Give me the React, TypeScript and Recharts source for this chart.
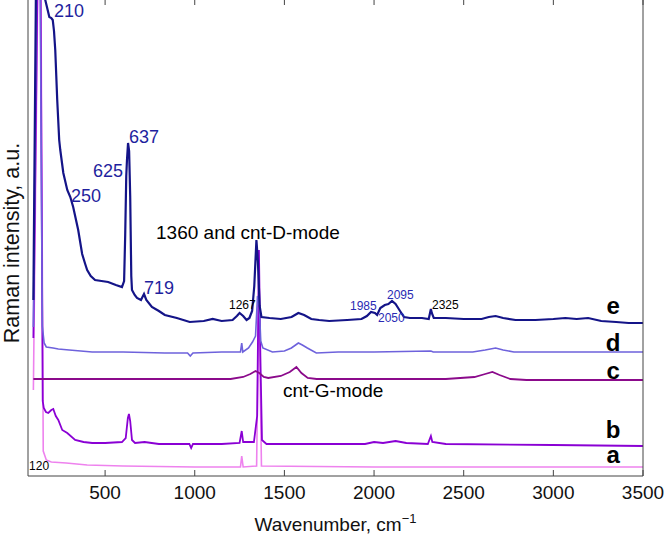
import { LineChart, Line, XAxis, YAxis, ReferenceDot, ReferenceLine } from 'recharts';

// Raman spectra, offset vertically (a.u.), [wavenumber, intensity]
const traceA: [number, number][] = [
  [100, 86], [124, 480], [128, 700], [136, 700], [142, 490], [155, 25], [172, 16], [200, 14],
  [283, 13], [400, 11], [600, 10], [1000, 9], [1255, 9], [1262, 20], [1270, 9], [1345, 10],
  [1353, 120], [1358, 210], [1363, 120], [1372, 10], [2000, 9], [3500, 9],
];

const traceB: [number, number][] = [
  [100, 138], [122, 480], [126, 700], [134, 700], [140, 490], [152, 75], [158, 68], [170, 64],
  [183, 63], [200, 66], [211, 67], [225, 60], [239, 56], [261, 46], [289, 43], [333, 36],
  [380, 34], [428, 33], [500, 33], [594, 34], [615, 38], [627, 58], [633, 62], [640, 55],
  [650, 36], [667, 33], [720, 34], [800, 32], [900, 32], [970, 32], [980, 28], [990, 32],
  [1150, 32], [1250, 33], [1262, 45], [1270, 34], [1330, 34], [1348, 60], [1358, 226],
  [1366, 120], [1375, 36], [1400, 32], [1700, 32], [1950, 32], [2000, 34], [2050, 33],
  [2120, 35], [2180, 33], [2300, 32], [2317, 40], [2325, 34], [2400, 32], [3000, 31], [3500, 30],
];

const traceC: [number, number][] = [
  [100, 97], [800, 97], [1200, 97], [1270, 99], [1310, 102], [1339, 105], [1360, 103],
  [1385, 99], [1410, 98], [1480, 100], [1530, 104], [1567, 109], [1595, 103], [1630, 98],
  [1680, 97], [2400, 97], [2560, 99], [2620, 102], [2660, 104], [2700, 101], [2760, 97],
  [2850, 96], [3500, 96],
];

const traceD: [number, number][] = [
  [100, 149], [117, 480], [121, 700], [132, 700], [138, 490], [150, 150], [160, 133],
  [172, 129], [210, 128], [239, 127], [300, 126], [428, 124], [600, 124], [833, 123],
  [960, 123], [975, 120], [990, 123], [1150, 124], [1255, 124], [1262, 133], [1268, 124],
  [1300, 128], [1322, 134], [1339, 140], [1350, 180], [1360, 170], [1368, 135], [1380, 128],
  [1433, 124], [1500, 125], [1539, 128], [1578, 133], [1600, 131], [1628, 128], [1678, 123],
  [1800, 124], [2000, 124], [2317, 125], [2330, 124], [2550, 124], [2620, 126], [2678, 128],
  [2720, 126], [2780, 124], [3000, 124], [3500, 124],
];

const traceE: [number, number][] = [
  [100, 176], [114, 480], [118, 700], [150, 700], [161, 480], [189, 459], [200, 458],
  [208, 456], [215, 445], [222, 426], [233, 376], [244, 336], [250, 326], [267, 303],
  [289, 286], [306, 279], [322, 269], [350, 246], [372, 222], [389, 212], [400, 206],
  [420, 200], [444, 196], [480, 195], [517, 194], [560, 191], [594, 189], [606, 195],
  [612, 240], [618, 300], [622, 316], [628, 333], [634, 325], [640, 280], [646, 200],
  [650, 186], [665, 181], [678, 178], [700, 176], [717, 182], [730, 176], [761, 169],
  [800, 165], [833, 161], [900, 158], [972, 154], [1050, 155], [1100, 157], [1150, 155],
  [1211, 156], [1235, 160], [1250, 163], [1270, 160], [1289, 156], [1305, 158], [1320, 165],
  [1332, 190], [1344, 236], [1352, 215], [1362, 170], [1372, 159], [1417, 158], [1480, 157],
  [1540, 159], [1578, 163], [1610, 161], [1650, 157], [1694, 156], [1750, 155], [1850, 156],
  [1930, 157], [1960, 160], [1983, 164], [2005, 163], [2017, 161], [2035, 168], [2060, 171],
  [2080, 172], [2100, 175], [2120, 172], [2145, 165], [2167, 159], [2200, 158], [2267, 158],
  [2305, 157], [2317, 167], [2322, 163], [2333, 158], [2400, 158], [2500, 157], [2600, 157],
  [2640, 159], [2678, 160], [2720, 158], [2789, 156], [2900, 156], [3000, 157], [3067, 158],
  [3130, 157], [3194, 158], [3267, 155], [3350, 154], [3420, 153], [3500, 153],
];

const xTicks = [500, 1000, 1500, 2000, 2500, 3000, 3500];
const yMax = 476;

// peak labels: [wavenumber, intensity, text, colour, size, weight]
const notes: [number, number, string, string, number, string][] = [
  [215, 459, '210', '#1f1f9e', 18, 'normal'],
  [633, 333, '637', '#1f1f9e', 18, 'normal'],
  [432, 299, '625', '#1f1f9e', 18, 'normal'],
  [310, 274, '250', '#1f1f9e', 18, 'normal'],
  [717, 182, '719', '#1f1f9e', 18, 'normal'],
  [784, 237, '1360 and cnt-D-mode', '#000', 19, 'normal'],
  [1191, 167, '1267', '#000', 12, 'normal'],
  [76, 6, '120', '#000', 12, 'normal'],
  [1866, 166, '1985', '#2a2ab4', 12, 'normal'],
  [2072, 177, '2095', '#2a2ab4', 12, 'normal'],
  [2022, 154, '2050', '#2a2ab4', 12, 'normal'],
  [2323, 167, '2325', '#000', 12, 'normal'],
  [1492, 79, 'cnt-G-mode', '#000', 19, 'normal'],
];

// sample letters, centred
const letters: [number, number, string][] = [
  [3333, 162, 'e'],
  [3333, 125, 'd'],
  [3333, 97, 'c'],
  [3333, 38, 'b'],
  [3333, 13, 'a'],
];

const series = [
  { name: 'a', data: traceA, color: '#ee82ee', width: 1.6 },
  { name: 'b', data: traceB, color: '#8a00d4', width: 1.8 },
  { name: 'c', data: traceC, color: '#8b0a8b', width: 1.8 },
  { name: 'd', data: traceD, color: '#6e62dc', width: 1.6 },
  { name: 'e', data: traceE, color: '#141488', width: 2.2 },
];

const axisColor = '#444';

export default function App() {
  return (
    <div
      style={{
        position: 'absolute',
        left: 0,
        top: 0,
        width: 664,
        height: 537,
        background: '#fff',
        fontFamily: '"Liberation Sans", Arial, sans-serif',
      }}
    >
      <LineChart width={664} height={537} margin={{ top: 0, right: 20, bottom: 0, left: 27 }}>
        <XAxis
          type="number"
          dataKey="w"
          domain={[70, 3500]}
          ticks={xTicks}
          allowDataOverflow
          height={61}
          stroke={axisColor}
          tickSize={-6}
          tickMargin={16}
          tick={{ fontSize: 19, fill: '#111' }}
          label={(props: any) => {
            const vb = props.viewBox;
            return (
              <text x={vb.x + vb.width / 2} y={531} textAnchor="middle" fontSize={19} fill="#111">
                <tspan>Wavenumber, cm</tspan>
                <tspan dy={-8} fontSize={13}>−1</tspan>
              </text>
            );
          }}
        />
        <YAxis
          type="number"
          domain={[0, yMax]}
          allowDataOverflow
          width={1}
          tick={false}
          tickLine={false}
          stroke={axisColor}
          label={(props: any) => {
            const vb = props.viewBox;
            const cx = vb.x - 8;
            const cy = 243;
            return (
              <text
                x={cx}
                y={cy}
                transform={`rotate(-90 ${cx} ${cy})`}
                textAnchor="middle"
                fontSize={21.5}
                fill="#111"
              >
                Raman intensity, a.u.
              </text>
            );
          }}
        />
        <YAxis
          yAxisId="right"
          orientation="right"
          type="number"
          domain={[0, yMax]}
          width={1}
          tick={false}
          tickLine={false}
          stroke={axisColor}
        />
        {/* inward tick marks along the top edge */}
        {xTicks.map((t) => (
          <ReferenceLine
            key={'top' + t}
            segment={[
              { x: t, y: yMax },
              { x: t, y: yMax - 5 },
            ]}
            stroke={axisColor}
          />
        ))}
        {series.map((s) => (
          <Line
            key={s.name}
            data={s.data.map(([w, v]) => ({ w, v }))}
            dataKey="v"
            type="linear"
            stroke={s.color}
            strokeWidth={s.width}
            dot={false}
            isAnimationActive={false}
          />
        ))}
        {notes.map(([w, v, text, color, size, weight]) => (
          <ReferenceDot
            key={text}
            x={w}
            y={v}
            r={0}
            fill="none"
            stroke="none"
            label={(props: any) => (
              <text x={props.viewBox.x} y={props.viewBox.y} fill={color} fontSize={size} fontWeight={weight}>
                {text}
              </text>
            )}
          />
        ))}
        {letters.map(([w, v, text]) => (
          <ReferenceDot
            key={'l' + text}
            x={w}
            y={v}
            r={0}
            fill="none"
            stroke="none"
            label={(props: any) => (
              <text x={props.viewBox.x} y={props.viewBox.y} fill="#000" fontSize={24} fontWeight="bold" textAnchor="middle">
                {text}
              </text>
            )}
          />
        ))}
      </LineChart>
    </div>
  );
}
